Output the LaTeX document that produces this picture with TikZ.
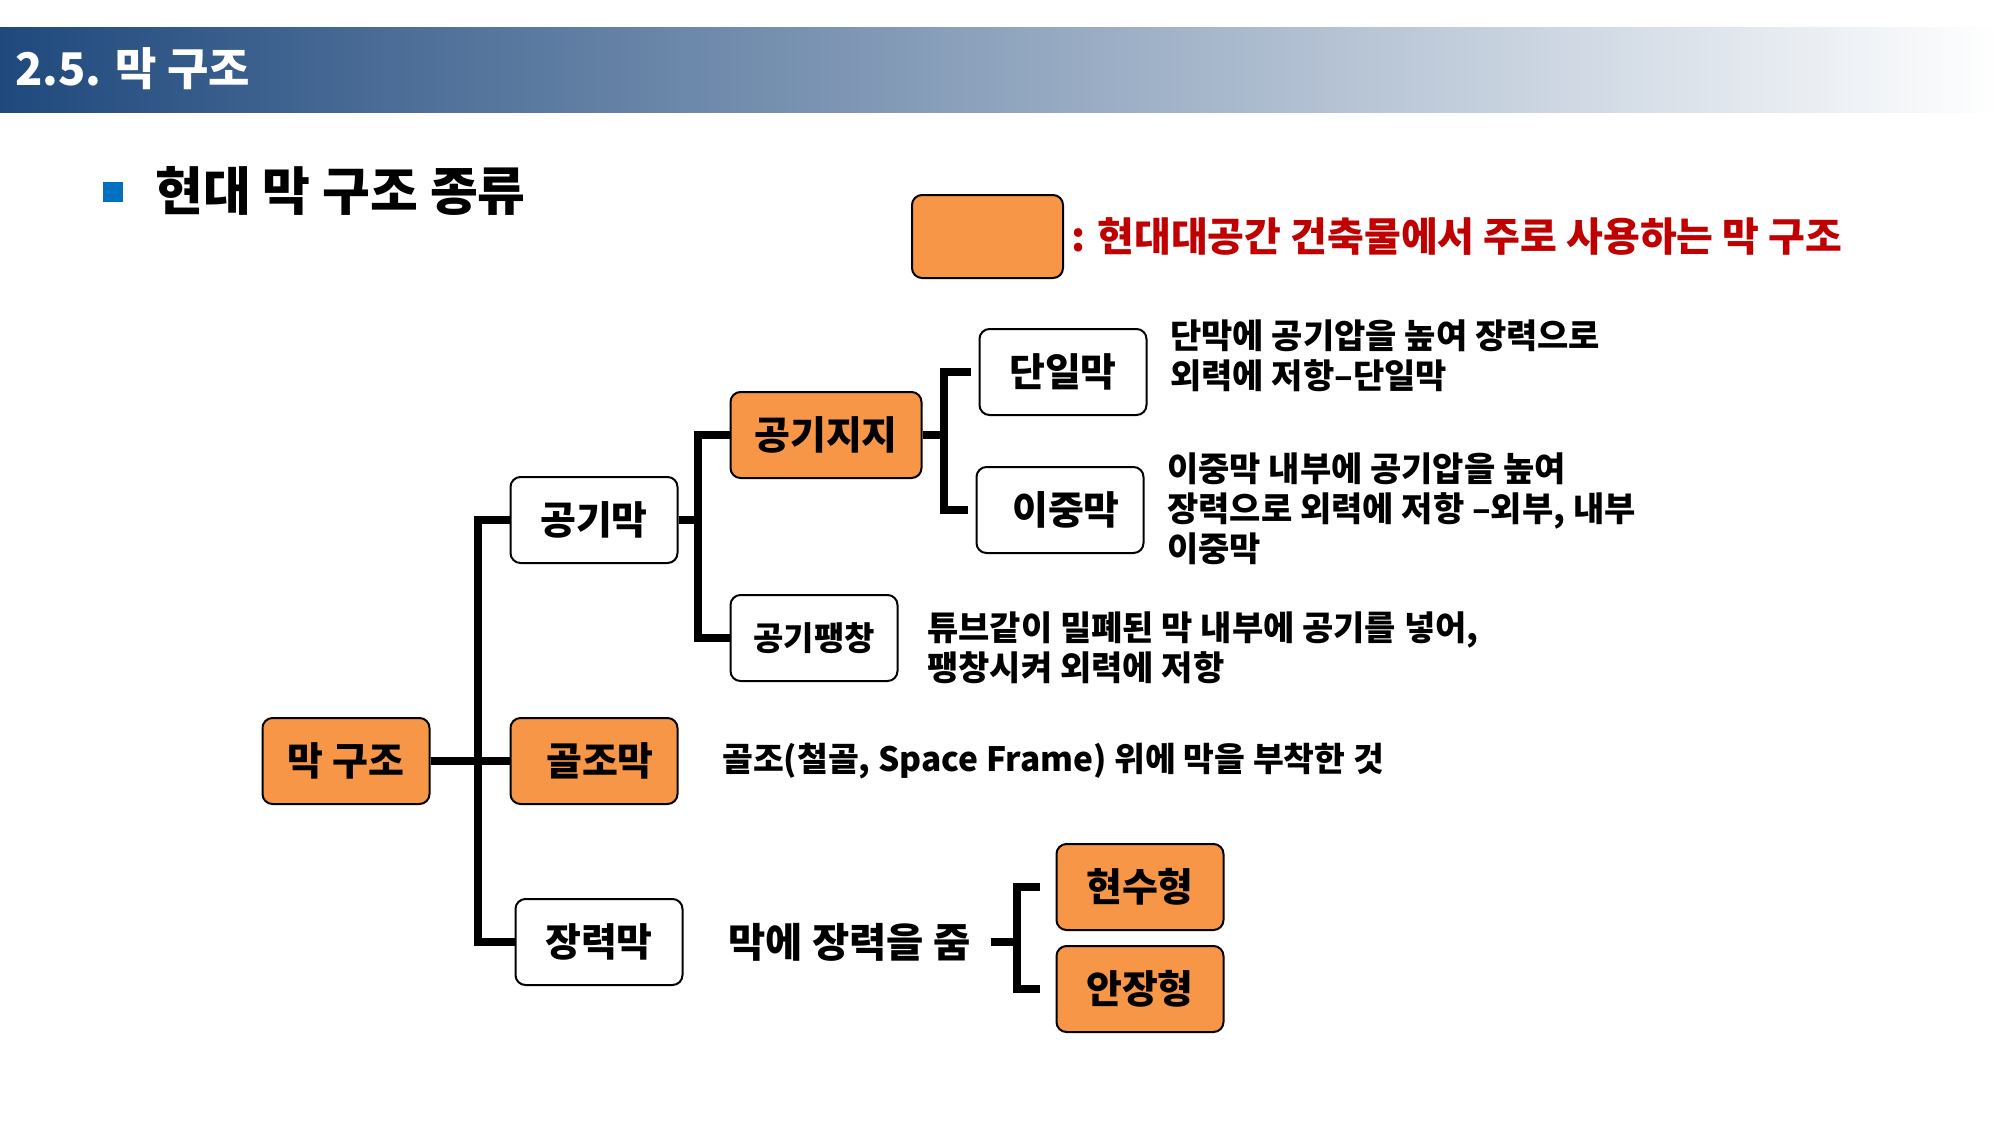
\documentclass[tikz,border=0pt]{standalone}
\usepackage{fontspec}
\setmainfont{Noto Sans CJK KR}
\usepackage{tikz}

\definecolor{boxorange}{RGB}{247,150,70}
\definecolor{legendred}{RGB}{192,0,0}
\definecolor{bulletblue}{RGB}{0,112,192}
\definecolor{hdrdark}{RGB}{31,73,125}
\definecolor{hdrmid}{RGB}{192,207,235}

\newcommand{\nodefont}{\fontsize{39}{44}\selectfont\bfseries}
\newcommand{\descfont}{\fontsize{34}{40}\selectfont\bfseries}

\tikzset{
  orgbox/.style={draw, line width=2, rounded corners=10, fill=boxorange, minimum width=167, minimum height=86, inner sep=0, font=\nodefont},
  whtbox/.style={orgbox, fill=white},
  conn/.style={line width=7.5},
  desc/.style={anchor=west, inner sep=0, align=left, font=\descfont}
}

\begin{document}
\begin{tikzpicture}[x=1pt,y=1pt,yscale=-1]
        \useasboundingbox (0,0) rectangle (2000,1125);

        % header band
        \shade[left color=hdrdark, middle color=hdrmid, right color=white] (0,27) rectangle (2000,112);
        \node[anchor=west, inner sep=0, text=white, font={\fontsize{45}{50}\selectfont\bfseries}] (title) at (15,69) {2.5. 막 구조};

        \node[fill=bulletblue, minimum size=20, inner sep=0] (bullet) at (113,192) {};
        \node[anchor=west, inner sep=0, font={\fontsize{52}{56}\selectfont\bfseries}] (subtitle) at (155,191) {현대 막 구조 종류};

        \node[orgbox, minimum width=151, minimum height=83] (legendbox) at (987.5,236.5) {};
        \node[anchor=west, inner sep=0, text=legendred, font={\fontsize{40}{44}\selectfont\bfseries}] (legendtxt) at (1071,236) {: 현대대공간 건축물에서 주로 사용하는 막 구조};

        % boxes
        \node[orgbox] (mak) at (346,761) {막 구조};
        \node[whtbox] (gonggi) at (594,520) {공기막};
        \node[orgbox] (golj) at (594,761) {\hspace{12pt}골조막};
        \node[whtbox] (jangr) at (599,942) {장력막};
        \node[orgbox, minimum width=191] (airsup) at (826,435) {공기지지};
        \node[whtbox, font={\fontsize{33}{38}\selectfont\bfseries}] (airinf) at (814,638) {공기팽창};
        \node[whtbox] (single) at (1063,372) {단일막};
        \node[whtbox] (double) at (1060,510) {\hspace{12pt}이중막};
        \node[orgbox] (hyunsu) at (1140,887) {현수형};
        \node[orgbox] (anjang) at (1140,989) {안장형};

        % descriptions
        \node[desc] (dsingle) at (1170,356) {단막에 공기압을 높여 장력으로\\외력에 저항–단일막};
        \node[desc] (ddouble) at (1167,509) {이중막 내부에 공기압을 높여\\장력으로 외력에 저항 –외부, 내부\\이중막};
        \node[desc] (dairinf) at (927,648) {튜브같이 밀폐된 막 내부에 공기를 넣어,\\팽창시켜 외력에 저항};
        \node[desc, font={\fontsize{33.5}{40}\selectfont\bfseries}] (dgolj) at (722,761) {골조(철골, Space Frame) 위에 막을 부착한 것};
        \node[desc, font={\fontsize{40.5}{44}\selectfont\bfseries}] (djangr) at (728,942) {막에 장력을 줌};

        % connectors
        \coordinate (trunk) at (478,761);
        \coordinate (b2) at (698,520);
        \coordinate (b3) at (944,435);
        \coordinate (b4) at (1017,942);

        \draw[conn] (mak) -- (golj);
        \draw[conn] (gonggi.west) -| (trunk) |- (jangr.west);
        \draw[conn] (gonggi.east) -- (b2);
        \draw[conn] (airsup.west) -| (b2) |- (airinf.west);
        \draw[conn] (airsup.east) -- (b3);
        \draw[conn] ([xshift=-8]single.west) -| (b3) |- ([xshift=-8]double.west);
        \draw[conn] ([xshift=20]djangr.east) -- (b4);
        \draw[conn] ([xshift=-16]hyunsu.west) -| (b4) |- ([xshift=-16]anjang.west);
\end{tikzpicture}
\end{document}
